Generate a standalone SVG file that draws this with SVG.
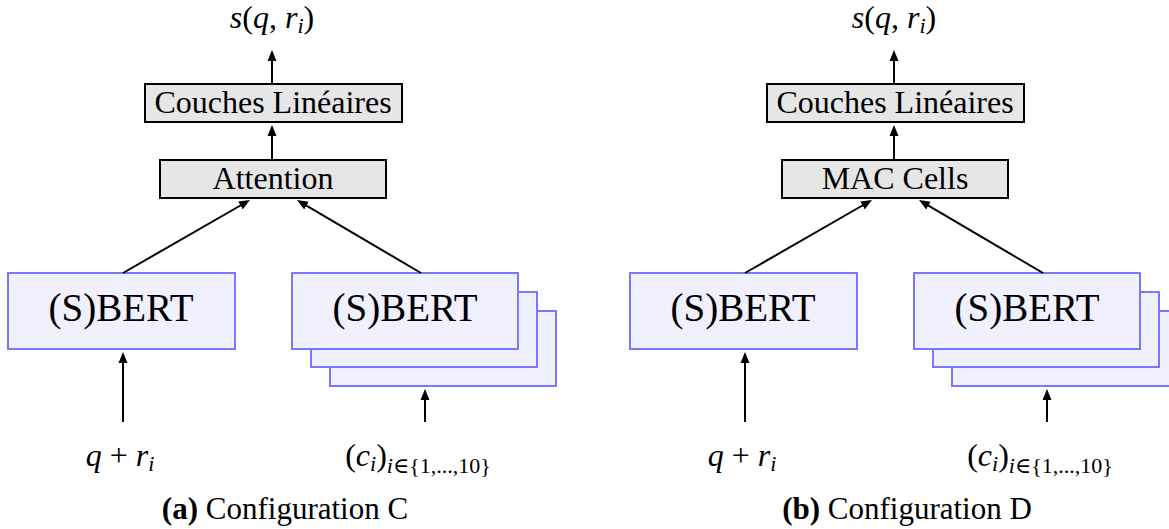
<svg xmlns="http://www.w3.org/2000/svg" width="1169" height="529" viewBox="0 0 1169 529">
<defs>
<style>
text{font-family:"Liberation Serif","Times New Roman","DejaVu Serif",serif;fill:#000;text-anchor:middle}
.gray{fill:#e6e6e6;stroke:#000;stroke-width:2}
.enc{fill:#f0f0ff;stroke:#7777ff;stroke-width:2}
.lbl{font-size:32px}
.big{font-size:39px}
.math{font-size:32px}
.it{font-style:italic}
.sub{font-size:22px}
.cap{font-size:31px}
.con{stroke:#000;stroke-width:2;fill:none;marker-end:url(#ah)}
</style>
<marker id="ah" markerWidth="12" markerHeight="10" viewBox="0 -5 12 10" refX="1" refY="0" orient="auto" markerUnits="userSpaceOnUse"><path d="M0,-4.5 L11,0 L0,4.5 z" fill="#000"/></marker>
</defs>
<rect width="1169" height="529" fill="#fff"/>

<!-- Panel a -->
<g id="a-out"><text class="math" x="272" y="28" font-family="Liberation Serif, DejaVu Serif, serif"><tspan class="it">s</tspan>(<tspan class="it">q</tspan>, <tspan class="it">r</tspan><tspan class="it sub" dy="5">i</tspan><tspan dy="-5">)</tspan></text></g>
<g id="a-couches"><rect class="gray" x="145" y="84" width="257" height="38"/><text class="lbl" x="273" y="113">Couches Linéaires</text></g>
<g id="a-attention"><rect class="gray" x="160" y="160" width="226" height="38"/><text class="lbl" x="273" y="189">Attention</text></g>
<g id="a-sbert1"><rect class="enc" x="8" y="273" width="227" height="76"/><text class="big" x="121" y="321">(S)BERT</text></g>
<g id="a-sbert2"><rect class="enc" x="330" y="311" width="226" height="75"/><rect class="enc" x="311" y="292" width="226" height="75"/><rect class="enc" x="292" y="273" width="226" height="76"/><text class="big" x="405" y="321">(S)BERT</text></g>
<g id="a-in1"><text class="math" x="120" y="466"><tspan class="it">q</tspan> + <tspan class="it">r</tspan><tspan class="it sub" dy="5">i</tspan></text></g>
<g id="a-in2"><text class="math" x="418" y="466">(<tspan class="it">c</tspan><tspan class="it sub" dy="5">i</tspan><tspan dy="-5">)</tspan><tspan class="sub" dy="7"><tspan class="it">i</tspan>∈{1,...,10}</tspan></text></g>
<g id="a-caption"><text class="cap" x="285" y="519"><tspan font-weight="bold">(a)</tspan> Configuration C</text></g>

<!-- Panel b -->
<g id="b-out"><text class="math" x="894" y="28"><tspan class="it">s</tspan>(<tspan class="it">q</tspan>, <tspan class="it">r</tspan><tspan class="it sub" dy="5">i</tspan><tspan dy="-5">)</tspan></text></g>
<g id="b-couches"><rect class="gray" x="767" y="84" width="257" height="38"/><text class="lbl" x="895" y="113">Couches Linéaires</text></g>
<g id="b-mac"><rect class="gray" x="782" y="160" width="226" height="38"/><text class="lbl" x="895" y="189">MAC Cells</text></g>
<g id="b-sbert1"><rect class="enc" x="630" y="273" width="227" height="76"/><text class="big" x="743" y="321">(S)BERT</text></g>
<g id="b-sbert2"><rect class="enc" x="952" y="311" width="226" height="75"/><rect class="enc" x="933" y="292" width="226" height="75"/><rect class="enc" x="914" y="273" width="226" height="76"/><text class="big" x="1027" y="321">(S)BERT</text></g>
<g id="b-in1"><text class="math" x="742" y="466"><tspan class="it">q</tspan> + <tspan class="it">r</tspan><tspan class="it sub" dy="5">i</tspan></text></g>
<g id="b-in2"><text class="math" x="1040" y="466">(<tspan class="it">c</tspan><tspan class="it sub" dy="5">i</tspan><tspan dy="-5">)</tspan><tspan class="sub" dy="7"><tspan class="it">i</tspan>∈{1,...,10}</tspan></text></g>
<g id="b-caption"><text class="cap" x="907" y="519"><tspan font-weight="bold">(b)</tspan> Configuration D</text></g>

<g id="connectors">
<line class="con" x1="272" y1="83" x2="272" y2="60"/>
<line class="con" x1="272" y1="159" x2="272" y2="135"/>
<line class="con" x1="123" y1="273" x2="241.3" y2="205"/>
<line class="con" x1="421" y1="273" x2="305.6" y2="205.1"/>
<line class="con" x1="123" y1="422" x2="123" y2="362"/>
<line class="con" x1="425" y1="422" x2="425" y2="399"/>
<line class="con" x1="894" y1="83" x2="894" y2="60"/>
<line class="con" x1="894" y1="159" x2="894" y2="135"/>
<line class="con" x1="745" y1="273" x2="863.3" y2="205"/>
<line class="con" x1="1043" y1="273" x2="927.6" y2="205.1"/>
<line class="con" x1="745" y1="422" x2="745" y2="362"/>
<line class="con" x1="1047" y1="422" x2="1047" y2="399"/>
</g>
</svg>
